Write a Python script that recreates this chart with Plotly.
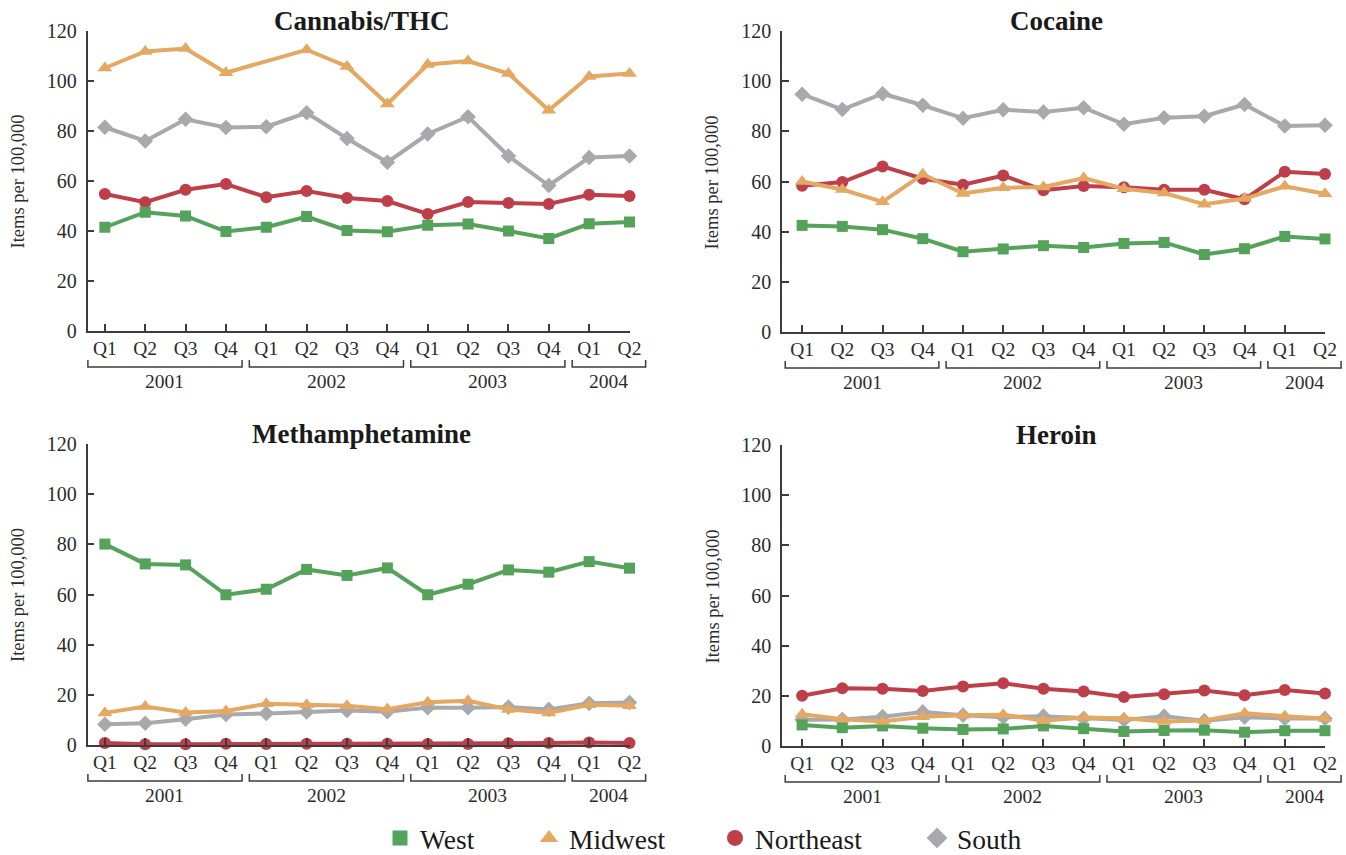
import plotly.graph_objects as go

# ---- data: items per 100,000, quarterly 2001 Q1 .. 2004 Q2 ----
quarters = ["Q1", "Q2", "Q3", "Q4", "Q1", "Q2", "Q3", "Q4",
            "Q1", "Q2", "Q3", "Q4", "Q1", "Q2"]
years = ["2001", "2002", "2003", "2004"]
year_spans = [(0, 3), (4, 7), (8, 11), (12, 13)]

regions = ["West", "Midwest", "Northeast", "South"]

cannabis_west = [41.5, 47.5, 46, 39.8, 41.5, 45.8, 40.2, 39.7, 42.3, 42.8, 40, 37, 42.9, 43.6]
cannabis_midwest = [105.2, 111.8, 113, 103.3, None, 112.5, 105.8, 90.8, 106.6, 108, 103, 88.3, 101.8, 103]
cannabis_northeast = [54.8, 51.5, 56.5, 58.8, 53.5, 56, 53.2, 52, 46.8, 51.6, 51.2, 50.8, 54.5, 54]
cannabis_south = [81.5, 76, 84.7, 81.4, 81.7, 87.3, 77, 67.5, 78.8, 85.7, 70, 58.2, 69.4, 70]

cocaine_west = [42.5, 42.1, 40.8, 37.2, 32, 33.1, 34.4, 33.7, 35.3, 35.7, 30.9, 33.2, 38.1, 37.1]
cocaine_midwest = [60, 56.8, 51.9, 62.9, 55.2, 57.5, 57.8, 61.4, 57.1, 55.4, 50.9, 53.2, 58.1, 55.1]
cocaine_northeast = [58.3, 59.8, 66, 61.1, 58.7, 62.4, 56.5, 58.2, 57.7, 56.7, 56.7, 52.9, 63.9, 63]
cocaine_south = [94.8, 88.7, 95, 90.4, 85.2, 88.6, 87.7, 89.4, 82.8, 85.4, 86, 90.7, 82.1, 82.4]

meth_west = [80.1, 72.2, 71.8, 59.9, 62.1, 70, 67.6, 70.6, 59.9, 64.1, 69.8, 68.9, 73.1, 70.5]
meth_midwest = [12.8, 15.3, 13, 13.6, 16.4, 16, 15.6, 14.3, 17, 17.6, 14.2, 12.8, 16, 15.6]
meth_northeast = [0.8, 0.3, 0.3, 0.5, 0.4, 0.5, 0.5, 0.5, 0.4, 0.4, 0.7, 0.8, 1.0, 0.8]
meth_south = [8.3, 8.7, 10.3, 12.2, 12.6, 13.2, 13.8, 13.3, 14.9, 14.9, 15.1, 14.2, 16.6, 16.9]

heroin_west = [8.4, 7.3, 8, 7.1, 6.6, 6.8, 8, 6.9, 5.8, 6.2, 6.3, 5.5, 6.1, 6.1]
heroin_midwest = [12.7, 10.7, 9.8, 11.7, 12.3, 12.5, 10.1, 11.4, 11.1, 9.8, 10.2, 13.1, 11.9, 11]
heroin_northeast = [20, 23, 22.8, 21.9, 23.7, 25, 22.8, 21.7, 19.5, 20.6, 22.1, 20.2, 22.3, 20.9]
heroin_south = [10.5, 10.6, 11.7, 13.6, 12.3, 11.5, 11.9, 11, 10.4, 11.9, 10.1, 11.5, 11, 11]

panels = [
    ("Cannabis/THC", {"West": cannabis_west, "Midwest": cannabis_midwest,
                      "Northeast": cannabis_northeast, "South": cannabis_south}),
    ("Cocaine", {"West": cocaine_west, "Midwest": cocaine_midwest,
                 "Northeast": cocaine_northeast, "South": cocaine_south}),
    ("Methamphetamine", {"West": meth_west, "Midwest": meth_midwest,
                         "Northeast": meth_northeast, "South": meth_south}),
    ("Heroin", {"West": heroin_west, "Midwest": heroin_midwest,
                "Northeast": heroin_northeast, "South": heroin_south}),
]

# ---- styling ----
W, H = 1346, 855
FONT = "Liberation Serif"
INK = "#2b2b2b"
AXIS = "#3c3c3c"
colors = {"West": "#55a25a", "Midwest": "#e4a862", "Northeast": "#be3f4a", "South": "#a8a9ad"}
symbols = {"West": "square", "Midwest": "triangle-up", "Northeast": "circle", "South": "diamond"}
msize = {"West": 11, "Midwest": 13, "Northeast": 12, "South": 12}
draw_order = ["South", "Northeast", "West", "Midwest"]

# panel geometry in pixels: (left, right, top, bottom, x-range start)
geom = [
    (87.5, 629.5, 31, 331, -0.43),
    (782, 1325, 31, 332, -0.5),
    (87.5, 629.5, 444, 745, -0.43),
    (782, 1325, 445, 746, -0.5),
]
X_END = 13


def fx(p):
    return p / W


def fy(p):
    return 1 - p / H


fig = go.Figure()
layout = dict(
    width=W, height=H,
    margin=dict(l=0, r=0, t=0, b=0, autoexpand=False),
    paper_bgcolor="white", plot_bgcolor="white",
    font=dict(family=FONT, color=INK),
    showlegend=True,
)
annotations = []
shapes = []

for k, ((title, series), (x0, x1, y0, y1, r0)) in enumerate(zip(panels, geom)):
    n = k + 1
    xa = "x" if n == 1 else f"x{n}"
    ya = "y" if n == 1 else f"y{n}"
    for reg in draw_order:
        fig.add_trace(go.Scatter(
            x=list(range(len(quarters))), y=series[reg],
            mode="lines+markers", name=reg, showlegend=False,
            connectgaps=True, cliponaxis=False,
            line=dict(color=colors[reg], width=4),
            marker=dict(symbol=symbols[reg], size=msize[reg], color=colors[reg]),
            xaxis=xa, yaxis=ya, hoverinfo="skip",
        ))
    xkey = "xaxis" if n == 1 else f"xaxis{n}"
    ykey = "yaxis" if n == 1 else f"yaxis{n}"
    layout[xkey] = dict(
        domain=[fx(x0), fx(x1)], anchor=ya, range=[r0, X_END],
        tickmode="array", tickvals=list(range(len(quarters))), ticktext=quarters,
        showline=True, linecolor=AXIS, linewidth=1.5,
        ticks="inside", ticklen=7, tickwidth=1.5, tickcolor=AXIS,
        showgrid=False, zeroline=False, fixedrange=True, automargin=False,
        ticklabelstandoff=-1,
        tickfont=dict(family=FONT, size=19.5, color=INK),
    )
    layout[ykey] = dict(
        domain=[fy(y1), fy(y0)], anchor=xa, range=[0, 120],
        tickmode="array", tickvals=[0, 20, 40, 60, 80, 100, 120],
        showline=True, linecolor=AXIS, linewidth=1.5,
        ticks="inside", ticklen=7, tickwidth=1.5, tickcolor=AXIS,
        showgrid=False, zeroline=False, fixedrange=True, automargin=False,
        ticklabelstandoff=5,
        tickfont=dict(family=FONT, size=20, color=INK),
    )

    # panel title
    annotations.append(dict(
        text=f"<b>{title}</b>", x=fx((x0 + x1) / 2 + 3), y=fy(y0 - 10),
        xref="paper", yref="paper", showarrow=False,
        xanchor="center", yanchor="middle",
        font=dict(family=FONT, size=27, color="#1a1a1a"),
    ))
    # y-axis title
    annotations.append(dict(
        text="Items per 100,000", textangle=-90,
        x=fx(x0 - 70), y=fy((y0 + y1) / 2 + 1),
        xref="paper", yref="paper", showarrow=False,
        xanchor="center", yanchor="middle",
        font=dict(family=FONT, size=18.5, color=INK),
    ))

    # year brackets below the quarter labels
    step = (x1 - x0) / (X_END - r0)

    def cx(i):
        return x0 + (i - r0) * step

    yb = y1 + 36
    yt = y1 + 29
    for (a, b), yr in zip(year_spans, years):
        left = cx(a - 0.42)
        right = cx(b + 0.4)
        shapes.append(dict(
            type="path", xref="paper", yref="paper",
            path=(f"M {fx(left)},{fy(yt)} L {fx(left)},{fy(yb)} "
                  f"L {fx(right)},{fy(yb)} L {fx(right)},{fy(yt)}"),
            line=dict(color=AXIS, width=1.5),
        ))
        annotations.append(dict(
            text=yr, x=fx((left + right) / 2), y=fy(y1 + 50),
            xref="paper", yref="paper", showarrow=False,
            xanchor="center", yanchor="middle",
            font=dict(family=FONT, size=19.5, color=INK),
        ))

# legend: one marker-only entry per region, each in its own legend box
legend_marker_x = {"West": 400, "Midwest": 549, "Northeast": 735, "South": 937}
legend_marker_size = {"West": 15, "Midwest": 16, "Northeast": 16, "South": 16}
for j, reg in enumerate(regions):
    lname = "legend" if j == 0 else f"legend{j + 1}"
    fig.add_trace(go.Scatter(
        x=[None], y=[None], mode="markers", name=reg,
        marker=dict(symbol=symbols[reg], size=legend_marker_size[reg], color=colors[reg]),
        legend=lname, showlegend=True, xaxis="x", yaxis="y",
    ))
    layout[lname] = dict(
        x=fx(legend_marker_x[reg] - 20), y=fy(838),
        xanchor="left", yanchor="middle", orientation="h",
        bgcolor="rgba(0,0,0,0)", borderwidth=0,
        font=dict(family=FONT, size=27.5, color="#1a1a1a"),
        itemclick=False, itemdoubleclick=False,
    )

layout["annotations"] = annotations
layout["shapes"] = shapes
fig.update_layout(**layout)

fig.write_html("out.html")
